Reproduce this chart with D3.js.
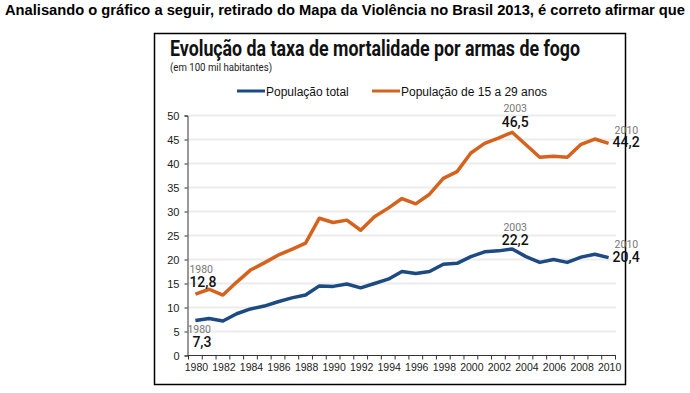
<!DOCTYPE html>
<html>
<head>
<meta charset="utf-8">
<script src="https://cdn.jsdelivr.net/npm/d3@7"></script>
<style>
  body { margin: 0; background: #fff; }
  svg { display: block; }
</style>
</head>
<body>
<svg id="chart" width="690" height="393"></svg>
<script>
// Data
const years = d3.range(1980, 2011);
const total = [7.3, 7.7, 7.2, 8.7, 9.7, 10.3, 11.2, 12.0, 12.6, 14.5, 14.4, 14.9, 14.1, 15.0, 15.9, 17.5,
  17.1, 17.5, 19.0, 19.2, 20.6, 21.6, 21.8, 22.2, 20.6, 19.4, 20.0, 19.4, 20.5, 21.1, 20.4];
const young = [12.8, 13.8, 12.6, 15.3, 17.8, 19.3, 20.9, 22.1, 23.4, 28.6, 27.7, 28.2, 26.1, 28.9, 30.7, 32.7,
  31.6, 33.6, 36.9, 38.3, 42.2, 44.2, 45.3, 46.5, 43.9, 41.3, 41.5, 41.3, 44.0, 45.1, 44.2];
const yTicks = [0, 5, 10, 15, 20, 25, 30, 35, 40, 45, 50];
const xLabels = d3.range(1980, 2011, 2);
const seriesNames = ["População total", "População de 15 a 29 anos"];
const notes = [
  { series: 1, year: 1980, label: "12,8" },
  { series: 0, year: 1980, label: "7,3" },
  { series: 1, year: 2003, label: "46,5" },
  { series: 0, year: 2003, label: "22,2" },
  { series: 1, year: 2010, label: "44,2" },
  { series: 0, year: 2010, label: "20,4" }
];

const blue = "#1d4a82";
const orange = "#d5621d";
const svg = d3.select("#chart");

// Question text above the chart
svg.append("text")
  .attr("x", 5).attr("y", 15)
  .attr("textLength", 680).attr("lengthAdjust", "spacingAndGlyphs")
  .style("font-family", "'Liberation Sans', Arial, sans-serif")
  .style("font-weight", "bold").style("font-size", "14px")
  .text("Analisando o gráfico a seguir, retirado do Mapa da Violência no Brasil 2013, é correto afirmar que");

// Frame
svg.append("rect")
  .attr("x", 154.5).attr("y", 33.5).attr("width", 471).attr("height", 351)
  .attr("fill", "#fff").attr("stroke", "#000").attr("stroke-width", 1.5);

// Title and subtitle
svg.append("text")
  .attr("x", 170).attr("y", 56)
  .attr("textLength", 410).attr("lengthAdjust", "spacingAndGlyphs")
  .style("font-family", "Roboto, sans-serif").style("font-weight", "bold").style("font-size", "22px")
  .style("fill", "#111")
  .text("Evolução da taxa de mortalidade por armas de fogo");

svg.append("text")
  .attr("x", 170).attr("y", 71)
  .attr("textLength", 102).attr("lengthAdjust", "spacingAndGlyphs")
  .style("font-family", "Roboto, sans-serif").style("font-size", "11px")
  .style("fill", "#222")
  .text("(em 100 mil habitantes)");

// Scales
const x = d3.scaleBand().domain(years).range([188.5, 615.5]);
const cx = yr => x(yr) + x.bandwidth() / 2;
const y = d3.scaleLinear().domain([0, 50]).range([355.5, 115.5]);

// Gridlines
svg.append("g")
  .selectAll("line")
  .data(yTicks.filter(d => d > 0))
  .join("line")
  .attr("x1", 188).attr("x2", 616)
  .attr("y1", d => y(d)).attr("y2", d => y(d))
  .attr("stroke", "#ececec").attr("stroke-width", 2);

// Y axis
const yAxis = svg.append("g")
  .attr("transform", "translate(187.5,0)")
  .call(d3.axisLeft(y).tickValues(yTicks).tickSize(3).tickPadding(5));
yAxis.select(".domain").attr("stroke", "#333");
yAxis.selectAll(".tick line").attr("stroke", "#333");
yAxis.selectAll("text")
  .style("font-family", "'Liberation Sans', Arial, sans-serif").style("font-size", "11px")
  .attr("fill", "#222");

// X axis: ticks at band edges, labels every two years
const xAxis = svg.append("g").attr("transform", `translate(0,${y(0)})`);
xAxis.append("line")
  .attr("x1", 187.5).attr("x2", 616).attr("stroke", "#333");
xAxis.selectAll("line.tk")
  .data(years.concat([2011]))
  .join("line").attr("class", "tk")
  .attr("x1", d => d === 2011 ? 615.5 : x(d)).attr("x2", d => d === 2011 ? 615.5 : x(d))
  .attr("y1", 0).attr("y2", 4).attr("stroke", "#333");
xAxis.selectAll("text")
  .data(xLabels)
  .join("text")
  .attr("x", d => cx(d) + 1).attr("y", 15)
  .attr("text-anchor", "middle")
  .style("font-family", "'Liberation Sans', Arial, sans-serif").style("font-size", "10.5px")
  .attr("fill", "#222")
  .text(d => d);

// Lines
const line = d3.line().x((d, i) => cx(years[i])).y(d => y(d));
[[total, blue], [young, orange]].forEach(([vals, col]) => {
  svg.append("path")
    .datum(vals)
    .attr("fill", "none").attr("stroke", col)
    .attr("stroke-width", 3.5).attr("stroke-linejoin", "round")
    .attr("d", line);
});

// Legend
const legend = svg.append("g").attr("transform", "translate(237,91)");
[[0, blue, 0], [1, orange, 135]].forEach(([i, col, dx]) => {
  legend.append("line")
    .attr("x1", dx).attr("x2", dx + 28).attr("y1", 0).attr("y2", 0)
    .attr("stroke", col).attr("stroke-width", 3);
  legend.append("text")
    .attr("x", dx + 29).attr("y", 4.5)
    .style("font-family", "'Liberation Sans', Arial, sans-serif").style("font-size", "12px")
    .attr("fill", "#111")
    .text(seriesNames[i]);
});

// Value annotations: offsets from the data point [dx, year dy, value dy, anchor]
const noteOffset = {
  "1980-1": [-6, -21, -7, "start"], "1980-0": [-8, 13, 27, "start"],
  "2003-1": [3, -20, -5, "middle"], "2003-0": [3, -18, -4, "middle"],
  "2010-1": [4, -9, 4, "start"], "2010-0": [4, -10, 4, "start"]
};
notes.forEach(n => {
  const vals = n.series === 1 ? young : total;
  const v = vals[years.indexOf(n.year)];
  const [ox, oyYear, oyVal, anchor] = noteOffset[n.year + "-" + n.series];
  const px = cx(n.year) + ox, py = y(v);
  svg.append("text")
    .attr("x", n.year === 2010 ? px + 2 : px).attr("y", py + oyYear)
    .attr("text-anchor", anchor)
    .style("font-family", "Roboto, sans-serif").style("font-size", "10.5px")
    .attr("fill", "#777")
    .text(n.year);
  svg.append("text")
    .attr("x", n.year === 1980 && n.series === 0 ? px + 5 : px).attr("y", py + oyVal)
    .attr("text-anchor", anchor)
    .style("font-family", "Roboto, sans-serif").style("font-size", "14px").style("font-weight", "500")
    .attr("fill", "#111")
    .text(n.label);
});
</script>
</body>
</html>
